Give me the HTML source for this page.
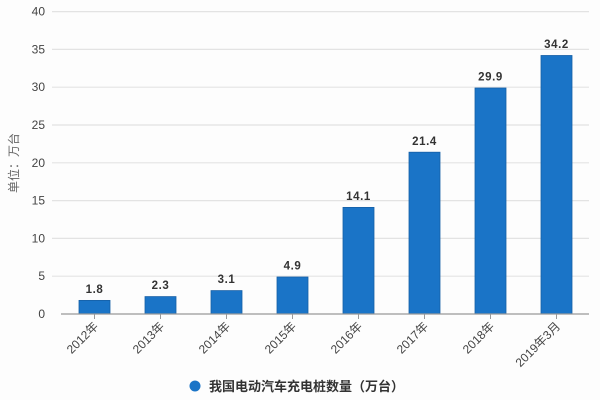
<!DOCTYPE html>
<html><head><meta charset="utf-8"><style>
html,body{margin:0;padding:0;background:#fff;}
svg{display:block;}
</style></head><body>
<svg width="600" height="400" viewBox="0 0 600 400" xmlns="http://www.w3.org/2000/svg">
<rect width="600" height="400" fill="#fdfdfd"/>
<g stroke="#e3e3e3" stroke-width="1.2">
<line x1="52" y1="11.6" x2="589" y2="11.6"/>
<line x1="52" y1="49.4" x2="589" y2="49.4"/>
<line x1="52" y1="87.2" x2="589" y2="87.2"/>
<line x1="52" y1="125" x2="589" y2="125"/>
<line x1="52" y1="162.8" x2="589" y2="162.8"/>
<line x1="52" y1="200.6" x2="589" y2="200.6"/>
<line x1="52" y1="238.4" x2="589" y2="238.4"/>
<line x1="52" y1="276.2" x2="589" y2="276.2"/>
</g>
<g font-family="Liberation Sans, sans-serif" font-size="12" fill="#444" text-anchor="end">
<text x="45" y="15.6">40</text>
<text x="45" y="53.4">35</text>
<text x="45" y="91.2">30</text>
<text x="45" y="129">25</text>
<text x="45" y="166.8">20</text>
<text x="45" y="204.6">15</text>
<text x="45" y="242.4">10</text>
<text x="45" y="280.2">5</text>
<text x="45" y="318">0</text>
</g>
<text transform="translate(18,163) rotate(-90)" font-family="Liberation Sans, 'Noto Sans CJK SC', sans-serif" font-size="12" fill="#666" text-anchor="middle">单位：万台</text>
<g fill="#1a74c7" stroke="#165fa6" stroke-width="0.8">
<rect x="79" y="300.4" width="31" height="13.6"/>
<rect x="145" y="296.6" width="31" height="17.4"/>
<rect x="211" y="290.6" width="31" height="23.4"/>
<rect x="277" y="277" width="31" height="37"/>
<rect x="343" y="207.4" width="31" height="106.6"/>
<rect x="409" y="152.2" width="31" height="161.8"/>
<rect x="475" y="88" width="31" height="226"/>
<rect x="541" y="55.5" width="31" height="258.5"/>
</g>
<line x1="61" y1="314" x2="589" y2="314" stroke="#999" stroke-width="1.2"/>
<g stroke="#999" stroke-width="1">
<line x1="94.5" y1="314" x2="94.5" y2="319"/>
<line x1="160.5" y1="314" x2="160.5" y2="319"/>
<line x1="226.5" y1="314" x2="226.5" y2="319"/>
<line x1="292.5" y1="314" x2="292.5" y2="319"/>
<line x1="358.5" y1="314" x2="358.5" y2="319"/>
<line x1="424.5" y1="314" x2="424.5" y2="319"/>
<line x1="490.5" y1="314" x2="490.5" y2="319"/>
<line x1="556.5" y1="314" x2="556.5" y2="319"/>
</g>
<g font-family="Liberation Sans, sans-serif" font-size="11.5" font-weight="bold" fill="#333" text-anchor="middle" letter-spacing="0.6">
<text x="94.5" y="293">1.8</text>
<text x="160.5" y="289">2.3</text>
<text x="226.5" y="283">3.1</text>
<text x="292.5" y="269.5">4.9</text>
<text x="358.5" y="200">14.1</text>
<text x="424.5" y="145">21.4</text>
<text x="490.5" y="80.5">29.9</text>
<text x="556.5" y="48">34.2</text>
</g>
<g font-family="Liberation Sans, 'Noto Sans CJK SC', sans-serif" font-size="12" fill="#444" text-anchor="end">
<text transform="translate(99,327) rotate(-45)">2012年</text>
<text transform="translate(165,327) rotate(-45)">2013年</text>
<text transform="translate(231,327) rotate(-45)">2014年</text>
<text transform="translate(297,327) rotate(-45)">2015年</text>
<text transform="translate(363,327) rotate(-45)">2016年</text>
<text transform="translate(429,327) rotate(-45)">2017年</text>
<text transform="translate(495,327) rotate(-45)">2018年</text>
<text transform="translate(561,327) rotate(-45)">2019年3月</text>
</g>
<circle cx="195" cy="386" r="5.5" fill="#1a74c7"/>
<text x="209" y="391" font-family="Liberation Sans, 'Noto Sans CJK SC', sans-serif" font-size="13" font-weight="bold" fill="#333">我国电动汽车充电桩数量（万台）</text>
</svg>
</body></html>
